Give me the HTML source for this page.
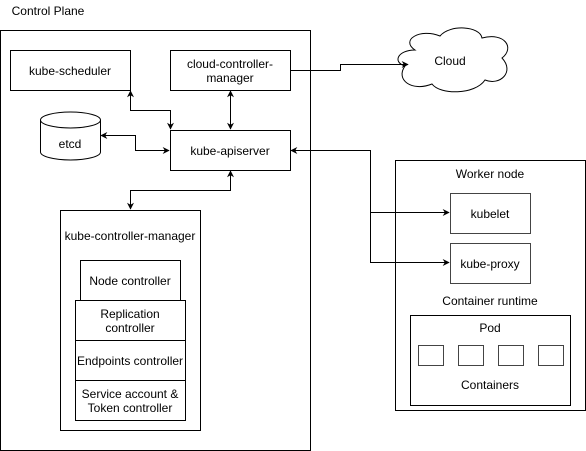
<!DOCTYPE html>
<html><head><style>body{margin:0;background:#fff}svg{display:block}text{font-family:"Liberation Sans",sans-serif;font-size:12px;fill:#000}</style></head><body>
<svg width="586" height="451" viewBox="0 0 586 451" xmlns="http://www.w3.org/2000/svg">
<defs><marker id="a" viewBox="0 0 10 10" refX="9" refY="5" markerWidth="7" markerHeight="7" orient="auto-start-reverse"><path d="M0,0 L10,5 L0,10 L3,5 z" fill="#000"/></marker></defs>
<g fill="none" stroke="#000" stroke-width="1">
<rect x="0.5" y="30.5" width="310" height="420"/>
<rect x="10.5" y="50.5" width="120" height="40"/>
<rect x="170.5" y="50.5" width="120" height="40"/>
<rect x="170.5" y="130.5" width="120" height="40"/>
<path d="M40.5,120 a30,8 0 0 1 60,0 v32 a30,8 0 0 1 -60,0 z M40.5,120 a30,8 0 0 0 60,0"/>
<rect x="60.5" y="210.5" width="140" height="220"/>
<rect x="80.5" y="260.5" width="100" height="40"/>
<rect x="75.5" y="300.5" width="110" height="40"/>
<rect x="75.5" y="340.5" width="110" height="40"/>
<rect x="75.5" y="380.5" width="110" height="40"/>
<path d="M415,50 C400,40 420,28 440,36 C450,24 480,26 482,38 C505,32 515,48 502,58 C515,72 500,86 485,80 C475,95 440,95 432,84 C412,92 395,80 405,66 C392,62 398,50 415,50 z"/>
<rect x="395.5" y="160.5" width="190" height="250"/>
<rect x="450.5" y="193.5" width="80" height="40" stroke="#444"/>
<rect x="450.5" y="243.5" width="80" height="40" stroke="#444"/>
<rect x="410.5" y="315.5" width="160" height="90"/>
<rect x="418.5" y="345.5" width="25" height="20" stroke="#444"/>
<rect x="458.5" y="345.5" width="25" height="20" stroke="#444"/>
<rect x="498.5" y="345.5" width="25" height="20" stroke="#444"/>
<rect x="538.5" y="345.5" width="25" height="20" stroke="#444"/>
<path d="M290,70.5 H340.5 V64.5 H408" marker-end="url(#a)"/>
<path d="M370.5,212 V150.5 H291" marker-end="url(#a)"/>
<path d="M370.5,212.5 H449" marker-end="url(#a)"/>
<path d="M370.5,212 V262.5 H449" marker-end="url(#a)"/>
<path d="M130.5,91 V110.5 H170.5 V129" marker-start="url(#a)" marker-end="url(#a)"/>
<path d="M230.5,91 V129" marker-start="url(#a)" marker-end="url(#a)"/>
<path d="M101,135.5 H135.5 V150.5 H169" marker-start="url(#a)" marker-end="url(#a)"/>
<path d="M230.5,171 V190.5 H130.5 V209" marker-start="url(#a)" marker-end="url(#a)"/>
</g>
<g text-anchor="middle">
<text x="48" y="15" >Control Plane</text>
<text x="70" y="75">kube-scheduler</text>
<text x="230" y="68">cloud-controller-</text>
<text x="230" y="82">manager</text>
<text x="70" y="148">etcd</text>
<text x="230" y="155">kube-apiserver</text>
<text x="130" y="240">kube-controller-manager</text>
<text x="130" y="285">Node controller</text>
<text x="130" y="318">Replication</text>
<text x="130" y="332">controller</text>
<text x="130" y="365">Endpoints controller</text>
<text x="130" y="398">Service account &amp;</text>
<text x="130" y="412">Token controller</text>
<text x="450" y="65">Cloud</text>
<text x="490" y="178">Worker node</text>
<text x="490" y="218">kubelet</text>
<text x="490" y="268">kube-proxy</text>
<text x="490" y="305">Container runtime</text>
<text x="490" y="332">Pod</text>
<text x="490" y="389">Containers</text>
</g>
</svg>
</body></html>
